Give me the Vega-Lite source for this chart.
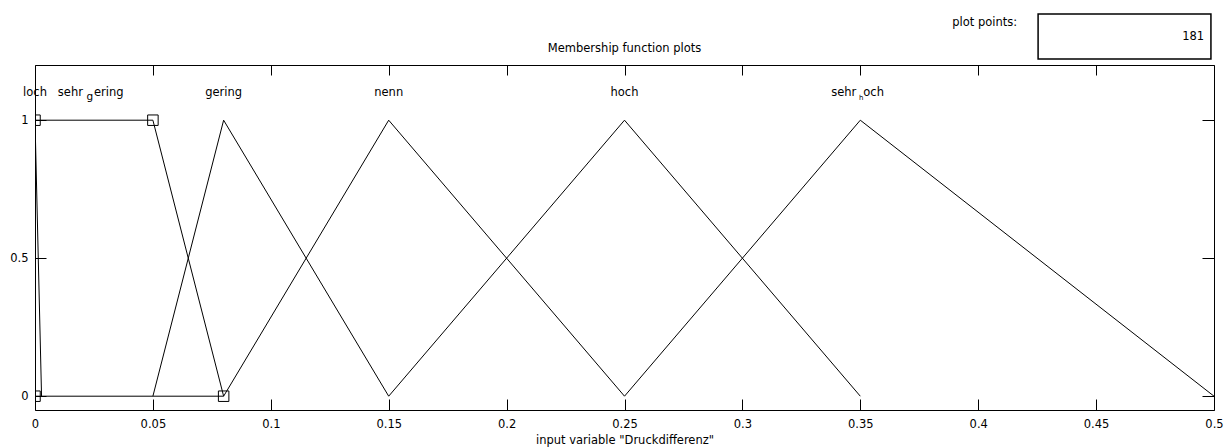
{
  "$schema": "https://vega.github.io/schema/vega-lite/v6.json",
  "width": 1179,
  "height": 345,
  "autosize": {"type": "none"},
  "padding": {"left": 35, "top": 65, "right": 17, "bottom": 38},
  "background": "white",
  "config": {
    "view": {"stroke": "black", "strokeWidth": 1},
    "axis": {"domain": false, "grid": false, "labelFlush": false, "labelOverlap": false, "labelBound": false, "labelFont": "DejaVu Sans", "labelFontSize": 11.5, "labelColor": "black", "tickColor": "black", "tickWidth": 1, "titleFont": "DejaVu Sans", "titleFontSize": 11.5, "titleFontWeight": "normal", "titleColor": "black"}
  },
  "datasets": {
    "mf": [
      {"mf": "loch", "i": 1, "x": 0, "y": 1},
      {"mf": "loch", "i": 2, "x": 0.00278, "y": 0},
      {"mf": "sehr_gering", "i": 1, "x": 0, "y": 0},
      {"mf": "sehr_gering", "i": 2, "x": 0, "y": 1},
      {"mf": "sehr_gering", "i": 3, "x": 0.05, "y": 1},
      {"mf": "sehr_gering", "i": 4, "x": 0.08, "y": 0},
      {"mf": "sehr_gering", "i": 5, "x": 0, "y": 0},
      {"mf": "gering", "i": 1, "x": 0.05, "y": 0},
      {"mf": "gering", "i": 2, "x": 0.08, "y": 1},
      {"mf": "gering", "i": 3, "x": 0.15, "y": 0},
      {"mf": "nenn", "i": 1, "x": 0.08, "y": 0},
      {"mf": "nenn", "i": 2, "x": 0.15, "y": 1},
      {"mf": "nenn", "i": 3, "x": 0.25, "y": 0},
      {"mf": "hoch", "i": 1, "x": 0.15, "y": 0},
      {"mf": "hoch", "i": 2, "x": 0.25, "y": 1},
      {"mf": "hoch", "i": 3, "x": 0.35, "y": 0},
      {"mf": "sehr_hoch", "i": 1, "x": 0.25, "y": 0},
      {"mf": "sehr_hoch", "i": 2, "x": 0.35, "y": 1},
      {"mf": "sehr_hoch", "i": 3, "x": 0.5, "y": 0}
    ],
    "handles": [
      {"x": 0, "y": 0},
      {"x": 0, "y": 1},
      {"x": 0.05, "y": 1},
      {"x": 0.08, "y": 0}
    ],
    "labels": [
      {"label": "loch", "x": 0, "y": 1.1},
      {"label": "gering", "x": 0.08, "y": 1.1},
      {"label": "nenn", "x": 0.15, "y": 1.1},
      {"label": "hoch", "x": 0.25, "y": 1.1}
    ],
    "sublabels": [
      {"label": "sehr_gering", "x": 0.025, "y": 1.1, "pre": "sehr", "sub": "g", "post": "ering"},
      {"label": "sehr_hoch", "x": 0.35, "y": 1.1, "pre": "sehr", "sub": "h", "post": "och"}
    ],
    "headings": [
      {"text": "Membership function plots", "x": 0.25, "y": 1.258}
    ],
    "widget": [
      {"x": 0.4254, "x2": 0.4987, "y": 1.2217, "y2": 1.385, "value": "181", "vx": 0.4958, "vy": 1.3014, "caption": "plot points:", "cx": 0.4165, "cy": 1.3520}
    ]
  },
  "resolve": {"axis": {"x": "independent", "y": "independent"}},
  "layer": [
    {
      "data": {"name": "mf"},
      "mark": {"type": "line", "color": "black", "strokeWidth": 1, "clip": true},
      "encoding": {
        "x": {"field": "x", "type": "quantitative", "scale": {"domain": [0, 0.5], "nice": false, "zero": false},
          "axis": {"orient": "bottom", "values": [0, 0.05, 0.1, 0.15, 0.2, 0.25, 0.3, 0.35, 0.4, 0.45, 0.5], "format": "~g", "tickSize": -11, "labelPadding": 19, "title": "input variable \"Druckdifferenz\"", "titlePadding": 5}},
        "y": {"field": "y", "type": "quantitative", "scale": {"domain": [-0.05, 1.2], "nice": false, "zero": false},
          "axis": {"orient": "left", "values": [0, 0.5, 1], "format": "~g", "tickSize": -11, "labelPadding": 18, "title": null}},
        "detail": {"field": "mf"},
        "order": {"field": "i", "type": "quantitative"}
      }
    },
    {
      "data": {"name": "handles"},
      "mark": {"type": "point", "shape": "square", "size": 110, "filled": false, "color": "black", "strokeWidth": 1, "clip": true, "opacity": 1},
      "encoding": {
        "x": {"field": "x", "type": "quantitative", "scale": {"domain": [0, 0.5], "nice": false, "zero": false},
          "axis": {"orient": "top", "values": [0, 0.05, 0.1, 0.15, 0.2, 0.25, 0.3, 0.35, 0.4, 0.45, 0.5], "labels": false, "tickSize": -10, "title": null}},
        "y": {"field": "y", "type": "quantitative", "scale": {"domain": [-0.05, 1.2], "nice": false, "zero": false},
          "axis": {"orient": "right", "values": [0, 0.5, 1], "labels": false, "tickSize": -12, "title": null}}
      }
    },
    {
      "data": {"name": "labels"},
      "mark": {"type": "text", "font": "DejaVu Sans", "fontSize": 11.5, "color": "black", "align": "center", "baseline": "middle"},
      "encoding": {
        "x": {"field": "x", "type": "quantitative", "axis": null},
        "y": {"field": "y", "type": "quantitative", "axis": null},
        "text": {"field": "label"}
      }
    },
    {
      "data": {"name": "sublabels"},
      "transform": [{"filter": "datum.label === 'sehr_gering'"}],
      "encoding": {
        "x": {"field": "x", "type": "quantitative", "axis": null},
        "y": {"field": "y", "type": "quantitative", "axis": null}
      },
      "layer": [
        {"mark": {"type": "text", "font": "DejaVu Sans", "fontSize": 11.5, "color": "black", "align": "right", "baseline": "middle", "dx": -11}, "encoding": {"text": {"field": "pre"}}},
        {"mark": {"type": "text", "font": "DejaVu Sans", "fontSize": 10.5, "color": "black", "align": "center", "baseline": "middle", "dx": -4, "dy": 4}, "encoding": {"text": {"field": "sub"}}},
        {"mark": {"type": "text", "font": "DejaVu Sans", "fontSize": 11.5, "color": "black", "align": "left", "baseline": "middle", "dx": 0}, "encoding": {"text": {"field": "post"}}}
      ]
    },
    {
      "data": {"name": "sublabels"},
      "transform": [{"filter": "datum.label === 'sehr_hoch'"}],
      "encoding": {
        "x": {"field": "x", "type": "quantitative", "axis": null},
        "y": {"field": "y", "type": "quantitative", "axis": null}
      },
      "layer": [
        {"mark": {"type": "text", "font": "DejaVu Sans", "fontSize": 11.5, "color": "black", "align": "right", "baseline": "middle", "dx": -4}, "encoding": {"text": {"field": "pre"}}},
        {"mark": {"type": "text", "font": "DejaVu Sans", "fontSize": 7, "color": "black", "align": "center", "baseline": "middle", "dx": 1, "dy": 5}, "encoding": {"text": {"field": "sub"}}},
        {"mark": {"type": "text", "font": "DejaVu Sans", "fontSize": 11.5, "color": "black", "align": "left", "baseline": "middle", "dx": 3}, "encoding": {"text": {"field": "post"}}}
      ]
    },
    {
      "data": {"name": "headings"},
      "mark": {"type": "text", "font": "DejaVu Sans", "fontSize": 11.5, "color": "black", "align": "center", "baseline": "middle", "clip": false},
      "encoding": {
        "x": {"field": "x", "type": "quantitative", "axis": null},
        "y": {"field": "y", "type": "quantitative", "axis": null},
        "text": {"field": "text"}
      }
    },
    {
      "data": {"name": "widget"},
      "mark": {"type": "rect", "fill": "white", "stroke": "black", "strokeWidth": 1.5, "clip": false},
      "encoding": {
        "x": {"field": "x", "type": "quantitative", "axis": null},
        "x2": {"field": "x2"},
        "y": {"field": "y", "type": "quantitative", "axis": null},
        "y2": {"field": "y2"}
      }
    },
    {
      "data": {"name": "widget"},
      "mark": {"type": "text", "font": "DejaVu Sans", "fontSize": 11.5, "color": "black", "align": "right", "baseline": "middle", "clip": false},
      "encoding": {
        "x": {"field": "vx", "type": "quantitative", "axis": null},
        "y": {"field": "vy", "type": "quantitative", "axis": null},
        "text": {"field": "value"}
      }
    },
    {
      "data": {"name": "widget"},
      "mark": {"type": "text", "font": "DejaVu Sans", "fontSize": 11.5, "color": "black", "align": "right", "baseline": "middle", "clip": false},
      "encoding": {
        "x": {"field": "cx", "type": "quantitative", "axis": null},
        "y": {"field": "cy", "type": "quantitative", "axis": null},
        "text": {"field": "caption"}
      }
    }
  ]
}
